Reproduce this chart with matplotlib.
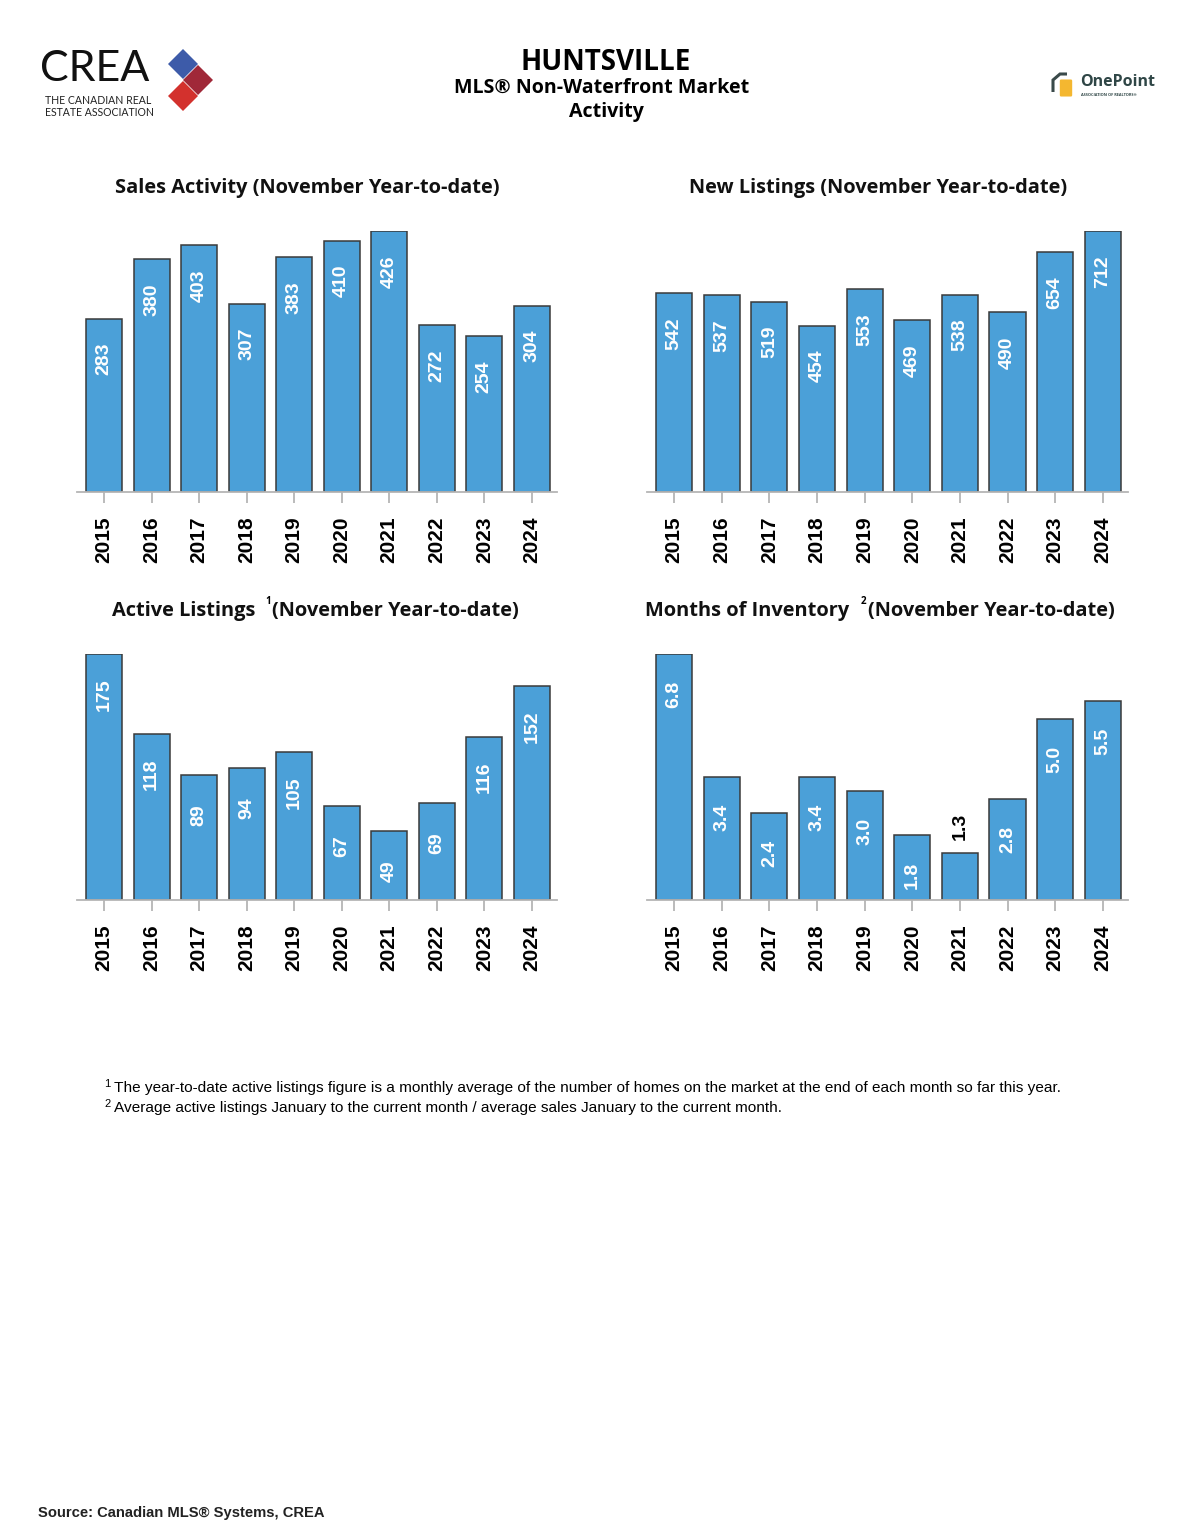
import matplotlib
matplotlib.use("Agg")
import matplotlib.pyplot as plt
from matplotlib.patches import Polygon, FancyBboxPatch

years = ["2015", "2016", "2017", "2018", "2019", "2020", "2021", "2022", "2023", "2024"]
sales = [283, 380, 403, 307, 383, 410, 426, 272, 254, 304]
new_listings = [542, 537, 519, 454, 553, 469, 538, 490, 654, 712]
active_listings = [175, 118, 89, 94, 105, 67, 49, 69, 116, 152]
months_inventory = [6.8, 3.4, 2.4, 3.4, 3.0, 1.8, 1.3, 2.8, 5.0, 5.5]

W, H = 1193, 1536
fig = plt.figure(figsize=(W / 100, H / 100), dpi=100)
fig.patch.set_facecolor("white")

BAR = "#4BA0D8"
EDGE = "#3a3a3a"
TITLE_FONT = "Open Sans"
NUM_FONT = "Liberation Sans"


def fx(x):
    return x / W


def fy(y):
    return 1 - y / H


def panel(px_left, px_right, px_top, px_bottom, values, fmt):
    ax = fig.add_axes([fx(px_left), fy(px_bottom), (px_right - px_left) / W, (px_bottom - px_top) / H])
    x = list(range(len(values)))
    ax.bar(x, values, width=0.76, color=BAR, edgecolor=EDGE, linewidth=1.1, zorder=2)
    vmax = max(values)
    ax.set_ylim(0, vmax)
    ax.set_xlim(-0.57, len(values) - 1 + 0.53)
    for s in ["top", "left", "right"]:
        ax.spines[s].set_visible(False)
    ax.spines["bottom"].set_color("#b5b5b5")
    ax.spines["bottom"].set_linewidth(1.3)
    ax.set_yticks([])
    ax.set_xticks(x)
    ax.set_xticklabels(years, rotation=90, fontsize=15, fontweight="bold", family=NUM_FONT)
    ax.tick_params(axis="x", length=8, width=1.3, color="#b5b5b5", pad=9.5)
    for xi, v in zip(x, values):
        label = fmt(v)
        if v / vmax < 0.22:
            ax.annotate(label, (xi, v), xytext=(0, 19), textcoords="offset points",
                        rotation=90, ha="center", va="center", color="black",
                        fontsize=14, fontweight="bold", family=NUM_FONT, annotation_clip=False)
        else:
            ax.annotate(label, (xi, v), xytext=(0, -29), textcoords="offset points",
                        rotation=90, ha="center", va="center", color="white",
                        fontsize=14, fontweight="bold", family=NUM_FONT)
    return ax


panel(77, 557, 231, 492, sales, lambda v: f"{v}")
panel(647, 1128, 231, 492, new_listings, lambda v: f"{v}")
panel(77, 557, 654, 900, active_listings, lambda v: f"{v}")
panel(647, 1128, 654, 900, months_inventory, lambda v: f"{v:.1f}")

# Panel titles
tkw = dict(fontsize=14.4, fontweight="bold", family=TITLE_FONT, va="center", color="#111111")
fig.text(fx(307), fy(188), "Sales Activity (November Year-to-date)", ha="center", **tkw)
fig.text(fx(878), fy(188), "New Listings (November Year-to-date)", ha="center", **tkw)
fig.text(fx(255), fy(611), "Active Listings", ha="right", **tkw)
fig.text(fx(268), fy(602), "1", ha="center", va="center", fontsize=7, family=TITLE_FONT, fontweight="bold")
fig.text(fx(272), fy(611), "(November Year-to-date)", ha="left", **tkw)
fig.text(fx(849), fy(611), "Months of Inventory", ha="right", **tkw)
fig.text(fx(863), fy(602), "2", ha="center", va="center", fontsize=7, family=TITLE_FONT, fontweight="bold")
fig.text(fx(868), fy(611), "(November Year-to-date)", ha="left", **tkw)

# Header
fig.text(fx(606), fy(62), "HUNTSVILLE", ha="center", va="center", fontsize=20,
         fontweight="bold", family=TITLE_FONT)
fig.text(fx(602), fy(88), "MLS® Non-Waterfront Market", ha="center", va="center", fontsize=14.1,
         fontweight="bold", family=TITLE_FONT)
fig.text(fx(606), fy(112), "Activity", ha="center", va="center", fontsize=14.1,
         fontweight="bold", family=TITLE_FONT)

# CREA logo
fig.text(fx(40), fy(69), "CREA", ha="left", va="center", fontsize=31, fontweight="normal",
         family="Lato", color="#111111")
fig.text(fx(45), fy(100), "THE CANADIAN REAL", ha="left", va="center", fontsize=7.6,
         family="Lato", color="#222222")
fig.text(fx(45), fy(112), "ESTATE ASSOCIATION", ha="left", va="center", fontsize=7.6,
         family="Lato", color="#222222")


def diamond(cx, cy, d, color):
    pts = [(fx(cx - d), fy(cy)), (fx(cx), fy(cy - d)), (fx(cx + d), fy(cy)), (fx(cx), fy(cy + d))]
    fig.patches.append(Polygon(pts, closed=True, transform=fig.transFigure, facecolor=color,
                               edgecolor="none"))


diamond(183, 64, 15, "#3D5BA9")
diamond(198, 80, 15, "#A02838")
diamond(183, 96, 15, "#D3312D")

# OnePoint logo
fig.patches.append(Polygon([(fx(1053), fy(92)), (fx(1053), fy(80)), (fx(1060), fy(74)), (fx(1067), fy(74))],
                           closed=False, fill=False, transform=fig.transFigure,
                           edgecolor="#3a4a4a", linewidth=2.2))
fig.patches.append(FancyBboxPatch((fx(1061), fy(95)), 10 / W, 14 / H, boxstyle="round,pad=0.001",
                                  transform=fig.transFigure, facecolor="#F4B730", edgecolor="none"))
fig.text(fx(1080), fy(82), "OnePoint", ha="left", va="center", fontsize=11.5, fontweight="bold",
         family="Open Sans", color="#2F4646")
fig.text(fx(1081), fy(95), "ASSOCIATION OF REALTORS®", ha="left", va="center", fontsize=2.8,
         fontweight="bold", family="Open Sans", color="#2F4646")

# Footnotes
fig.text(fx(104), fy(1084), "1", ha="left", va="center", fontsize=8, family="Liberation Sans")
fig.text(fx(114), fy(1088), "The year-to-date active listings figure is a monthly average of the number of homes on the market at the end of each month so far this year.",
         ha="left", va="center", fontsize=11.1, family="Liberation Sans")
fig.text(fx(104), fy(1104), "2", ha="left", va="center", fontsize=8, family="Liberation Sans")
fig.text(fx(114), fy(1108), "Average active listings January to the current month / average sales January to the current month.",
         ha="left", va="center", fontsize=11.1, family="Liberation Sans")

fig.text(fx(38), fy(1513), "Source: Canadian MLS® Systems, CREA", ha="left", va="center", fontsize=10.6,
         fontweight="bold", family="Liberation Sans", color="#222222")

fig.savefig("out.png", dpi=100)
